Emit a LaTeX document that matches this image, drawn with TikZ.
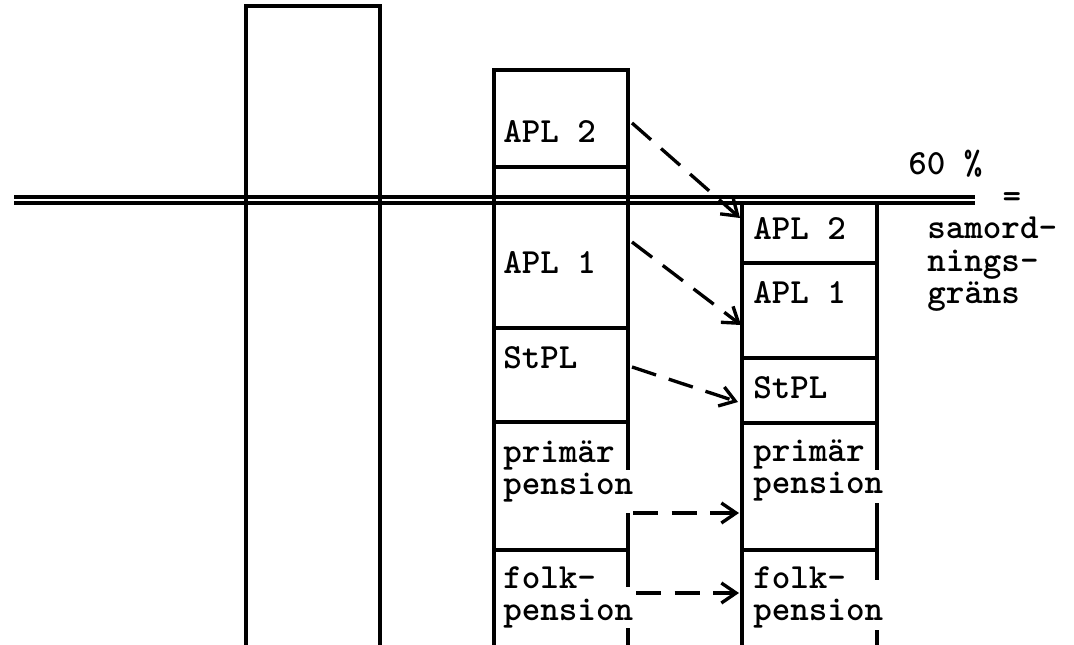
\documentclass[tikz,border=0pt]{standalone}
\usepackage{fontspec}
\usepackage{tikz}
\usetikzlibrary{arrows.meta}

\begin{document}
\begin{tikzpicture}[x=0.75pt,y=-0.75pt,
  bar/.style={line width=2.5pt},
  tt/.style={font=\ttfamily\bfseries\fontsize{26.5}{24}\selectfont,inner sep=0pt},
  lbl/.style={tt,align=left,anchor=base west},
  link/.style={line width=2.5pt,dash pattern=on 19pt off 10pt,-{Straight Barb[length=11pt,width=15pt]}}]
  \useasboundingbox (0,0) rectangle (1074,645);

  % Tall bar (income)
  \draw[bar] (246,645) -- (246,6) -- (380,6) -- (380,645);

  % 60 % line, drawn twice
  \draw[bar] (14,197) -- (975,197);
  \draw[bar] (14,203) -- (975,203);

  % Middle bar: pensions before coordination
  % right edge broken where the text runs over it
  \draw[bar] (494,645) -- (494,70) -- (628,70) -- (628,470);
  \draw[bar] (628,513) -- (628,587);
  \draw[bar] (628,628) -- (628,645);
  \foreach \y in {167,328,422,550}
    \draw[bar] (494,\y) -- (628,\y);

  % Right bar: pensions after coordination
  \draw[bar] (742,645) -- (742,203) -- (877,203) -- (877,470);
  \draw[bar] (877,503) -- (877,580);
  \draw[bar] (877,630) -- (877,645);
  \foreach \y in {263,358,423,550}
    \draw[bar] (742,\y) -- (877,\y);

  % Labels, middle bar (base = last line)
  \node[lbl] (mApl2) at (503,143) {APL 2};
  \node[lbl] (mApl1) at (503,273) {APL 1};
  \node[lbl] (mStpl) at (503,368) {StPL};
  \node[lbl] (mPrim) at (503,494) {primär\\pension};
  \node[lbl] (mFolk) at (503,620) {folk-\\pension};

  % Labels, right bar
  \node[lbl] (rApl2) at (753,240) {APL 2};
  \node[lbl] (rApl1) at (753,303) {APL 1};
  \node[lbl] (rStpl) at (753,398) {StPL};
  \node[lbl] (rPrim) at (753,493) {primär\\pension};
  \node[lbl] (rFolk) at (753,620) {folk-\\pension};

  % Limit text
  \node[lbl] (pct) at (908,175) {60 \%};
  \node[tt] (eq) at (1012,200) {=};
  \node[lbl] (limit) at (927,303) {samord-\\nings-\\gräns};

  % Arrow ends
  \coordinate (a2s) at (632,123);
  \coordinate (a2e) at (740,218);
  \coordinate (a1s) at (632,242);
  \coordinate (a1e) at (741,325);
  \coordinate (sts) at (632,367);
  \coordinate (ste) at (738,402);
  \coordinate (prs) at (633,513);
  \coordinate (pre) at (739,513);
  \coordinate (fos) at (636,593);
  \coordinate (foe) at (739,593);

  % Dashed arrows
  \draw[link] (a2s) -- (a2e);
  \draw[link] (a1s) -- (a1e);
  \draw[link] (sts) -- (ste);
  \draw[link] (prs) -- (pre);
  \draw[link] (fos) -- (foe);
\end{tikzpicture}
\end{document}
